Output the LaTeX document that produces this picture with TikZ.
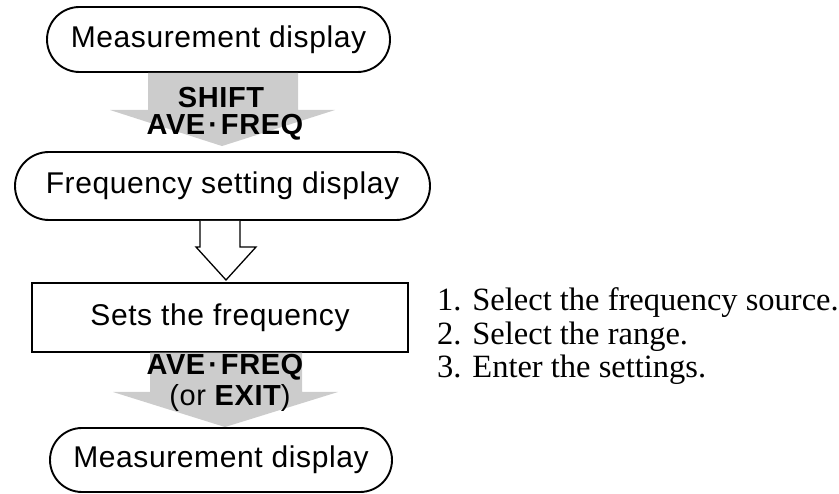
\documentclass[tikz,border=0pt]{standalone}
\usepackage{fontspec}
\setmainfont[LetterSpace=2]{Liberation Sans}
\newfontfamily\listfont{Liberation Serif}
\usetikzlibrary{shapes.misc,calc}
\definecolor{arrowgray}{RGB}{204,204,204}
\newcommand{\kdot}{\hspace{3pt}·\hspace{3pt}}
\begin{document}
\begin{tikzpicture}[x=1pt,y=-1pt,
  term/.style={rounded rectangle, draw, line width=1.9pt, inner sep=0pt,
    font=\fontsize{30}{34}\selectfont},
  procbox/.style={rectangle, draw, line width=1.3pt, inner sep=0pt,
    font=\fontsize{30}{34}\selectfont},
  keytext/.style={inner sep=0pt, font=\fontsize{29}{32}\selectfont\bfseries},
  listtext/.style={inner sep=0pt, anchor=base west, font=\listfont\fontsize{32.5}{33}\selectfont}]
\useasboundingbox (0,0) rectangle (839,494);

% nodes
\node[term, minimum width=343pt, minimum height=65pt] (t1) at (218.5,39.5) {Measurement display};
\node[term, minimum width=415pt, minimum height=68pt] (t2) at (222.5,186) {Frequency setting display};
\node[procbox, minimum width=376pt, minimum height=69pt] (r) at (220,317.5) {Sets the frequency};
\node[term, minimum width=342pt, minimum height=64pt] (t3) at (221,460) {Measurement display};

% gray arrow 1
\fill[arrowgray] (148,0 |- t1.south) -- (148,110) -- (110,110) -- ($(t2.north)+(-0.5,-5)$)
  -- (335,110) -- (298,110) -- (298,0 |- t1.south) -- cycle;
\node[keytext] (k1) at (221,98) {SHIFT};
\node[keytext] (k2) at (225,127) {AVE\kdot FREQ};

% hollow arrow
\draw[line width=1.3pt, fill=white, line join=miter] (200,0 |- t2.south) -- (200,247) -- (196,247)
  -- (226,280) -- (256,247) -- (240,247) -- (240,0 |- t2.south);

% gray arrow 2
\fill[arrowgray] (150,0 |- r.south) -- (150,392) -- (113,392) -- (225,0 |- t3.north)
  -- (338,392) -- (302,392) -- (302,0 |- r.south) -- cycle;
\node[keytext] (k3) at (225,367) {AVE\kdot FREQ};
\node[keytext] (k4) at (230,398) {\mdseries(or \bfseries EXIT\mdseries)};

% list
\node[listtext] (l1) at (437,311) {1. Select the frequency source.};
\node[listtext] (l2) at (437,344.5) {2. Select the range.};
\node[listtext] (l3) at (437,378) {3. Enter the settings.};
\end{tikzpicture}
\end{document}
